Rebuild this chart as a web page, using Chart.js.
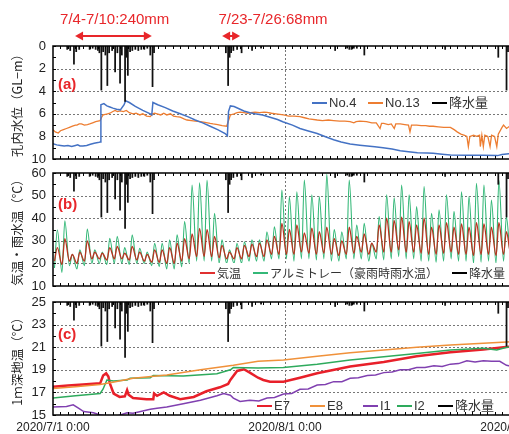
<!DOCTYPE html>
<html>
<head>
<meta charset="utf-8">
<script src="https://cdn.jsdelivr.net/npm/chart.js@4.4.1/dist/chart.umd.min.js"></script>
<style>
body { margin:0; background:#fff; overflow:hidden; width:509px; height:434px; position:relative; }
canvas { position:absolute; left:0; }
</style>
</head>
<body>
<canvas id="chartA" width="540" height="166" style="top:0px"></canvas>
<canvas id="chartB" width="540" height="128" style="top:166px"></canvas>
<canvas id="chartC" width="540" height="140" style="top:294px"></canvas>
<script>
// x is days since 2020/7/1 0:00
var xTickDays = [0, 31, 62];
var xTickLabels = ['2020/7/1 0:00', '2020/8/1 0:00', '2020/9/1 0:00'];

// precipitation (hanging bars, hidden axis 0-100)
var rainDays = [1.9, 2.3, 2.8, 3.1, 3.5, 4.9, 5.3, 5.7, 6.0, 6.2, 6.46, 6.7, 7.0, 7.26, 7.5, 7.9, 8.3, 8.6, 8.96, 9.2, 9.63, 9.8, 10.0, 10.3, 10.6, 11.0, 11.4, 11.8, 12.2, 12.6, 13.0, 13.3, 13.5,
  23.1, 23.4, 23.6, 23.8, 24.1, 24.6, 25.2, 26.6, 27.8, 37.7, 39.3, 39.6, 39.9, 40.2, 40.6, 41.6, 52.4, 59.5, 60.6, 60.8];
var rainMm = [3, 4, 16, 5, 3, 3, 2, 3, 4, 6, 39, 5, 8, 35, 6, 4, 23, 6, 33, 8, 49, 10, 26, 5, 4, 3, 4, 3, 3, 2, 8, 36, 6,
  6, 35, 10, 6, 4, 3, 6, 4, 2, 4, 2, 3, 3, 2, 2, 8, 3, 10, 39, 5];

// (a) well water level GL-m
var no4Days = [0, 0.5, 1, 1.5, 2, 2.5, 3, 3.3, 3.6, 4, 4.5, 5, 5.5, 6, 6.3, 6.4, 6.8, 7.2, 7.6, 8, 8.5, 9, 9.5, 9.7, 10.2, 11, 12, 13, 13.2, 13.35, 14, 15, 16, 17, 18, 19, 20, 21, 22, 23, 23.3, 23.45, 23.7, 24.2, 25, 25.5, 26.3, 27, 28, 29, 30, 30.7, 32, 33, 34, 35.3, 36.5, 37.5, 38.5, 39.7, 41, 42, 43, 44.1, 45.3, 46.4, 47.5, 48.7, 50, 50.8, 52, 53.1, 55.3, 57.5, 59.4, 60, 60.6, 61.5];
var no4Level = [8.65, 8.75, 8.8, 8.85, 8.8, 8.9, 8.8, 8.75, 8.85, 8.85, 8.8, 8.7, 8.6, 8.55, 8.5, 5.2, 5.1, 5.3, 5.4, 5.5, 5.6, 5.65, 5.2, 4.85, 5.0, 5.35, 5.7, 6.0, 6.1, 5.0, 5.2, 5.45, 5.75, 6.0, 6.25, 6.55, 6.8, 7.1, 7.4, 7.75, 7.95, 5.8, 5.3, 5.35, 5.6, 5.75, 5.9, 6.0, 6.1, 6.3, 6.5, 6.7, 7.0, 7.3, 7.5, 7.75, 8.05, 8.3, 8.5, 8.67, 8.78, 8.85, 8.92, 9.0, 9.12, 9.26, 9.35, 9.44, 9.48, 9.5, 9.58, 9.65, 9.67, 9.67, 9.7, 9.6, 9.55, 9.5];
var no13Days = [0, 0.3, 0.7, 1, 1.4, 1.8, 2.2, 2.6, 3, 3.2, 3.5, 3.8, 4.2, 4.6, 4.9, 5.3, 5.7, 6, 6.3, 6.5, 6.7, 7, 7.3, 7.6, 8, 8.3, 8.6, 9, 9.4, 9.8, 10.2, 10.7, 11.1, 11.6, 12, 12.5, 13, 13.3, 13.6, 13.9, 14.4, 14.8, 15.2, 15.7, 16.1, 16.5, 17, 17.5, 17.9, 18.5, 19, 19.7, 20.3, 21, 21.4, 22, 22.6, 23.2, 23.5, 23.7, 24.2, 24.6, 25, 25.5, 26, 26.4, 27, 27.6, 28.2, 28.6, 29.2, 29.8, 30.3, 30.8, 31.5, 32.2, 33, 33.6, 34.2, 35.3, 36, 36.8, 37.5, 38.3, 39, 39.7, 40.2, 40.5, 41, 41.9, 42.6, 43.2, 43.7, 43.9, 44.2, 44.8, 45.2, 45.6, 45.8, 46.4, 47, 47.5, 47.7, 47.9, 48.6, 49.2, 49.8, 50.3, 50.8, 51.5, 52.2, 53.1, 53.6, 54, 54.5, 55, 55.3, 55.5, 55.7, 56.2, 56.6, 57, 57.1, 57.3, 57.5, 57.7, 58.1, 58.4, 58.6, 59, 59.3, 59.5, 60, 60.2, 60.6, 61, 61.6];
var no13Level = [7.4, 7.6, 7.7, 7.5, 7.4, 7.3, 7.2, 7.1, 7.0, 7.0, 6.9, 6.9, 7.0, 6.95, 6.9, 6.8, 6.7, 6.65, 6.6, 6.3, 6.1, 6.05, 6.0, 5.95, 5.8, 5.7, 5.8, 5.75, 5.8, 5.7, 5.9, 6.0, 5.95, 6.1, 6.0, 6.2, 6.25, 6.0, 5.95, 6.0, 6.1, 5.95, 6.1, 6.0, 6.2, 6.25, 6.3, 6.45, 6.55, 6.6, 6.65, 6.7, 6.75, 6.85, 6.9, 6.95, 7.05, 7.1, 6.5, 6.1, 6.0, 5.9, 5.85, 5.9, 5.95, 5.9, 5.85, 5.9, 5.85, 5.87, 5.95, 6.0, 6.05, 6.1, 6.2, 6.2, 6.25, 6.35, 6.45, 6.55, 6.6, 6.55, 6.6, 6.65, 6.65, 6.7, 6.8, 6.7, 6.65, 6.7, 6.8, 6.8, 7.3, 6.85, 6.85, 6.95, 6.9, 7.3, 6.9, 6.9, 6.95, 7.0, 7.6, 7.0, 7.0, 7.05, 7.05, 7.1, 7.1, 7.15, 7.2, 7.2, 7.4, 7.6, 7.8, 7.9, 8.0, 8.9, 8.0, 7.9, 8.0, 7.9, 8.9, 7.9, 8.9, 7.9, 8.0, 8.9, 7.9, 8.0, 8.9, 7.8, 7.2, 7.0, 7.3, 7.1, 7.0];

// (b) daily min / max, one entry per day from 7/1
var airMin = [21, 19.5, 21, 20, 21, 22, 22, 21.5, 22, 22, 21.5, 21.5, 21, 20.5, 20.5, 20, 20, 21, 22, 23, 23, 23, 22.5, 22, 22, 22, 23, 23, 23, 24, 24, 24, 24, 25, 24.5, 24, 24.5, 24, 23.5, 24, 24.5, 25, 24, 25, 25, 25, 26, 25, 25, 24.5, 24, 24, 24.5, 25, 24, 24, 23.5, 24, 24, 23.5, 24, 24];
var airMax = [27, 31, 24, 25, 30, 25, 24.5, 27, 27.5, 24.5, 27.5, 25, 24, 26, 26, 27, 29, 31, 33, 35.5, 35, 32, 28, 25, 27, 28, 28.5, 29, 30.4, 32, 37.7, 35, 37, 33.5, 35.6, 34, 36, 31, 30, 36, 32, 33, 29, 37, 40, 39, 40.5, 38.5, 37, 40, 36, 37, 38, 36, 37.5, 36, 38, 37.5, 36, 38, 34, 35];
var trayMin = [18, 16, 19, 17.5, 19, 20, 20, 19.5, 20, 20, 19.5, 20, 20, 19, 18.5, 17.5, 17.5, 18.5, 20, 21, 21, 21, 20, 20, 20, 20, 21, 21, 21, 22, 22, 22, 21, 22, 22, 21.5, 22, 21, 21, 22, 22, 22, 21, 22, 21.5, 22, 23, 22, 22, 21, 21, 20.5, 21, 22, 21, 21, 20, 20.5, 21, 20, 21, 21];
var trayMax = [34.8, 38.9, 24, 26, 35.2, 26, 25, 31.1, 32, 27, 32.6, 26.7, 25, 28.9, 28.9, 30.4, 32.6, 38.5, 54.7, 55.7, 56.9, 42.2, 30.4, 26, 28.9, 29.6, 30.4, 30.4, 34, 36.2, 52.5, 49.5, 51.7, 56.9, 50.4, 49.6, 59.5, 35, 34, 56.9, 37, 37.7, 28.9, 40.7, 50.4, 49, 54.7, 50.4, 45.1, 54, 42.2, 43.7, 50.4, 43, 51.7, 49.6, 55.4, 54.7, 48, 56.9, 40.7, 45];

// (c) 1 m ground temperature
var e7Days = [0, 2, 4, 6.3, 6.7, 7.1, 7.4, 7.6, 8.1, 8.9, 9.6, 9.9, 10.1, 10.7, 12.5, 13.4, 13.5, 13.9, 14.8, 15.6, 17, 18.8, 20.5, 22.3, 23.4, 23.7, 24.6, 25.5, 26.3, 27.4, 28.1, 29, 30.8, 33, 35.3, 39.7, 44.2, 48.6, 53.1, 57.5, 60.2, 62];
var e7Temp = [17.5, 17.6, 17.7, 17.8, 18.5, 18.7, 18.4, 17.8, 16.9, 16.6, 16.65, 17.2, 16.8, 16.5, 16.4, 16.4, 16.9, 16.7, 17.0, 16.7, 16.4, 16.6, 17.1, 17.45, 17.75, 18.1, 18.9, 19.05, 18.75, 18.3, 18.1, 17.95, 17.95, 18.3, 18.7, 19.3, 19.7, 20.2, 20.55, 20.8, 21.0, 21.1];
var e8Days = [0, 3, 6.3, 8, 10.7, 15.2, 19.7, 24.1, 27.4, 30.8, 35.3, 39.7, 44.2, 48.6, 53.1, 57.5, 60.6, 62];
var e8Temp = [17.35, 17.5, 17.7, 17.9, 18.25, 18.55, 19.0, 19.4, 19.75, 19.87, 20.2, 20.5, 20.75, 21.0, 21.2, 21.35, 21.45, 21.5];
var i1Days = [0, 1.8, 2.7, 3.4, 4.1, 5.4, 6.3, 7.2, 8.3, 9.9, 10.7, 13, 13.9, 15.2, 17.4, 19.7, 21.9, 22.8, 23.7, 24.1, 25, 26.3, 27.5, 28.6, 29.6, 30.8, 31.9, 33, 34.1, 35.3, 36.4, 37.5, 38.6, 39.7, 40.8, 42, 43.1, 44.2, 45.3, 46.4, 47.5, 48.6, 49.7, 50.9, 52, 53.1, 54.2, 55.3, 56.4, 57.5, 58.6, 59.7, 60.6, 62];
var i1Temp = [15.7, 15.75, 15.9, 15.6, 15.3, 15.2, 15.0, 14.9, 14.85, 15.2, 15.15, 15.5, 15.6, 15.7, 16.0, 16.3, 16.7, 16.9, 16.75, 16.5, 16.2, 16.3, 16.25, 16.5, 16.55, 16.86, 16.9, 17.27, 17.3, 17.65, 17.7, 17.95, 17.95, 18.25, 18.3, 18.5, 18.55, 18.75, 18.8, 19.0, 19.0, 19.2, 19.2, 19.35, 19.3, 19.5, 19.55, 19.8, 19.7, 19.8, 19.75, 19.75, 19.4, 19.2];
var i2Days = [0, 3, 6.3, 6.7, 7.2, 8.1, 9.9, 10.3, 13, 13.4, 17.4, 21.9, 23.7, 24.1, 27.4, 30.8, 35.3, 39.7, 44.2, 48.6, 53.1, 57.5, 59.3, 60.6, 62];
var i2Temp = [16.5, 16.7, 16.9, 17.3, 18.1, 18.0, 18.1, 18.25, 18.3, 18.5, 18.45, 18.65, 19.0, 19.2, 19.15, 19.2, 19.5, 19.87, 20.15, 20.45, 20.75, 20.9, 20.75, 21.0, 21.05];

Chart.defaults.font.family = "'Liberation Sans', Arial, 'Noto Sans CJK JP', sans-serif";
Chart.defaults.color = '#222';

function pts(days, vals) {
    return days.map(function(d, i) { return {x: d, y: vals[i]}; });
}
function daily(mins, maxs) {
    var out = [];
    for (var i = 0; i < mins.length; i++) {
        out.push({x: i + 0.2, y: mins[i]});
        out.push({x: i + 0.58, y: maxs[i]});
    }
    return out;
}
function rainSet() {
    return { type: 'bar', label: '降水量', data: pts(rainDays, rainMm), yAxisID: 'p',
        backgroundColor: '#111', barThickness: 1.1, order: -1 };
}
function lineSet(label, data, color, width, smooth) {
    return { label: label, data: data, borderColor: color, backgroundColor: color,
        borderWidth: width, pointRadius: 0, fill: false,
        tension: smooth ? 0.4 : 0, cubicInterpolationMode: smooth ? 'monotone' : 'default' };
}

function xScale(show) {
    return {
        type: 'linear', min: 0, max: 62, offset: false, display: show,
        grid: { display: false, drawTicks: false }, border: { display: false },
        afterBuildTicks: function(s) { s.ticks = xTickDays.map(function(v) { return {value: v}; }); },
        ticks: { autoSkip: false, maxRotation: 0, padding: 5, font: { size: 12 }, color: '#222',
            callback: function(v, i) { return xTickLabels[i]; } },
        afterFit: function(s) {
            s.height = show ? 19 : 0;
            s.paddingLeft = 0; s.paddingRight = 0;
        }
    };
}
function yScale(min, max, step, reverse, title) {
    return {
        type: 'linear', min: min, max: max, reverse: reverse, position: 'left',
        grid: { display: false, drawTicks: false }, border: { display: false },
        ticks: { stepSize: step, padding: 7, font: { size: 13 }, color: '#222' },
        title: { display: true, text: title, color: '#222', font: { size: 12.5, family: "'Noto Sans CJK JP', sans-serif" },
            padding: { top: 10, bottom: 0 } },
        afterFit: function(s) { s.width = 53; s.paddingTop = 0; s.paddingBottom = 0; }
    };
}
function baseOptions(top, bottom, x, y) {
    return {
        responsive: false, animation: false, devicePixelRatio: 1,
        layout: { padding: { left: 0, right: 23, top: top, bottom: bottom } },
        plugins: { legend: { display: false }, tooltip: { enabled: false } },
        scales: { x: x, y: y, p: { display: false, min: 0, max: 100, reverse: true } }
    };
}

var RED = '#e8262a';
function arrowHead(ctx, x, y, dir) {
    ctx.beginPath();
    ctx.moveTo(x, y);
    ctx.lineTo(x - dir * 8, y - 4.5);
    ctx.lineTo(x - dir * 8, y + 4.5);
    ctx.closePath();
    ctx.fill();
}

function makeDecor(cfg) {
    return {
        id: 'decor',
        beforeDatasetsDraw: function(chart) {
            var ctx = chart.ctx, a = chart.chartArea, x = chart.scales.x, y = chart.scales.y;
            ctx.save();
            ctx.strokeStyle = '#777';
            ctx.lineWidth = 1;
            ctx.setLineDash([2, 2]);
            cfg.gridY.forEach(function(v) {
                var py = Math.round(y.getPixelForValue(v)) + 0.5;
                ctx.beginPath(); ctx.moveTo(a.left, py); ctx.lineTo(a.right, py); ctx.stroke();
            });
            cfg.gridX.forEach(function(v) {
                var px = Math.round(x.getPixelForValue(v)) + 0.5;
                ctx.beginPath(); ctx.moveTo(px, a.top); ctx.lineTo(px, a.bottom); ctx.stroke();
            });
            ctx.restore();
        },
        afterDatasetsDraw: function(chart) {
            var ctx = chart.ctx, a = chart.chartArea, x = chart.scales.x, y = chart.scales.y;
            ctx.save();
            if (cfg.legendBg) {
                ctx.fillStyle = '#fff';
                ctx.fillRect(cfg.legendBg[0], cfg.legendBg[1], cfg.legendBg[2], cfg.legendBg[3]);
            }
            // frame
            ctx.strokeStyle = '#000';
            ctx.lineWidth = 1.5;
            ctx.strokeRect(a.left, a.top, a.right - a.left, a.bottom - a.top);
            // small inward ticks
            ctx.lineWidth = 1;
            for (var d = 1; d < 62; d++) {
                var px = Math.round(x.getPixelForValue(d)) + 0.5;
                ctx.beginPath();
                ctx.moveTo(px, a.bottom); ctx.lineTo(px, a.bottom - 3);
                ctx.moveTo(px, a.top); ctx.lineTo(px, a.top + 3);
                ctx.stroke();
            }
            for (var v = y.min; v <= y.max; v += cfg.yMinor) {
                var py = Math.round(y.getPixelForValue(v)) + 0.5;
                ctx.beginPath(); ctx.moveTo(a.left, py); ctx.lineTo(a.left + 3, py); ctx.stroke();
            }
            // legend
            ctx.font = cfg.legendFont;
            ctx.textBaseline = 'middle';
            ctx.textAlign = 'left';
            cfg.legend.forEach(function(it) {
                ctx.strokeStyle = it.color;
                ctx.lineWidth = 2;
                ctx.beginPath(); ctx.moveTo(it.x, cfg.legendY); ctx.lineTo(it.x + 15, cfg.legendY); ctx.stroke();
                ctx.fillStyle = '#333';
                ctx.fillText(it.text, it.x + 17, cfg.legendY + 0.5);
            });
            // panel tag
            ctx.font = "bold 15px 'Liberation Sans', Arial, sans-serif";
            ctx.fillStyle = RED;
            ctx.fillText(cfg.tag, a.left + 5, cfg.tagY);
            // rain period notes
            (cfg.notes || []).forEach(function(n) {
                ctx.font = "15px 'Liberation Sans', Arial, sans-serif";
                ctx.fillStyle = RED;
                ctx.fillText(n.text, x.getPixelForValue(n.textDay), 20);
                var x1 = x.getPixelForValue(n.from), x2 = x.getPixelForValue(n.to);
                ctx.strokeStyle = RED;
                ctx.lineWidth = 2;
                ctx.beginPath(); ctx.moveTo(x1 + 4, 36); ctx.lineTo(x2 - 4, 36); ctx.stroke();
                arrowHead(ctx, x1, 36, -1);
                arrowHead(ctx, x2, 36, 1);
            });
            ctx.restore();
        }
    };
}

var rainNotes = [
    { text: '7/4-7/10:240mm', textDay: 0.95, from: 2.95, to: 13.2 },
    { text: '7/23-7/26:68mm', textDay: 22.1, from: 22.6, to: 25.0 }
];

new Chart(document.getElementById('chartA'), {
    type: 'line',
    data: { datasets: [
        rainSet(),
        lineSet('No.4', pts(no4Days, no4Level), '#4472c4', 1.5),
        lineSet('No.13', pts(no13Days, no13Level), '#ed7d31', 1.3)
    ] },
    options: baseOptions(46, 7, xScale(false), yScale(0, 10, 2, true, '孔内水位（GL−m）')),
    plugins: [makeDecor({
        gridY: [2, 4, 6, 8], gridX: [31], yMinor: 1, tag: '(a)', tagY: 85,
        legendFont: "13px 'Liberation Sans', Arial, 'Noto Sans CJK JP', sans-serif", legendY: 103,
        legend: [
            { text: 'No.4', color: '#4472c4', x: 312 },
            { text: 'No.13', color: '#ed7d31', x: 368 },
            { text: '降水量', color: '#000', x: 432 }
        ],
        notes: rainNotes
    })]
});

new Chart(document.getElementById('chartB'), {
    type: 'line',
    data: { datasets: [
        rainSet(),
        lineSet('気温', daily(airMin, airMax), '#b8321f', 1.3, true),
        lineSet('アルミトレー（豪雨時雨水温）', daily(trayMin, trayMax), '#34b878', 1.1, true)
    ] },
    options: baseOptions(7, 8, xScale(false), yScale(10, 60, 10, false, '気温・雨水温（℃）')),
    plugins: [makeDecor({
        gridY: [20, 30, 40, 50], gridX: [31], yMinor: 5, tag: '(b)', tagY: 39,
        legendFont: "12px 'Noto Sans CJK JP', sans-serif", legendY: 107, legendBg: [190, 97, 350, 21],
        legend: [
            { text: '気温', color: '#e03030', x: 200 },
            { text: 'アルミトレー（豪雨時雨水温）', color: '#34b878', x: 253 },
            { text: '降水量', color: '#000', x: 452 }
        ]
    })]
});

new Chart(document.getElementById('chartC'), {
    type: 'line',
    data: { datasets: [
        rainSet(),
        lineSet('E8', pts(e8Days, e8Temp), '#f0913a', 1.5),
        lineSet('I2', pts(i2Days, i2Temp), '#2eaa5c', 1.5),
        lineSet('I1', pts(i1Days, i1Temp), '#8040b0', 1.5),
        lineSet('E7', pts(e7Days, e7Temp), '#e8202a', 2.5)
    ] },
    options: baseOptions(8, 0, xScale(true), yScale(15, 25, 2, false, '1ｍ深地温（℃）')),
    plugins: [makeDecor({
        gridY: [17, 19, 21, 23], gridX: [31], yMinor: 1, tag: '(c)', tagY: 41,
        legendFont: "13px 'Liberation Sans', Arial, 'Noto Sans CJK JP', sans-serif", legendY: 112,
        legend: [
            { text: 'E7', color: '#e8202a', x: 257 },
            { text: 'E8', color: '#f0913a', x: 310 },
            { text: 'I1', color: '#8040b0', x: 363 },
            { text: 'I2', color: '#2eaa5c', x: 397 },
            { text: '降水量', color: '#000', x: 438 }
        ]
    })]
});
</script>
</body>
</html>
